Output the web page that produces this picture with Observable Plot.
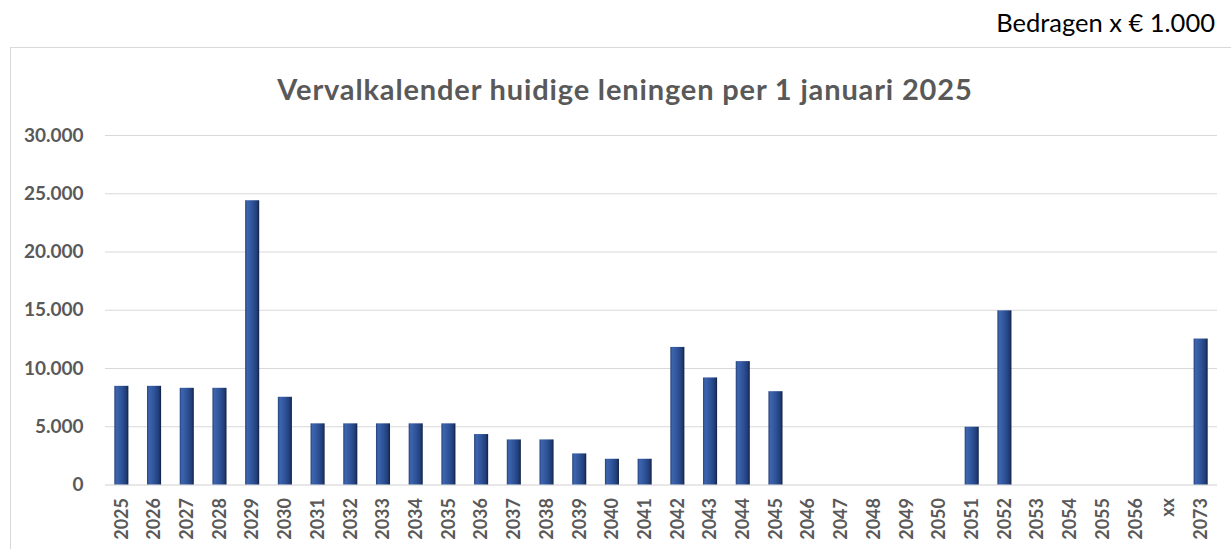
<!DOCTYPE html>
<html>
<head>
<meta charset="utf-8">
<script src="https://cdn.jsdelivr.net/npm/d3@7"></script>
<script src="https://cdn.jsdelivr.net/npm/@observablehq/plot@0.6"></script>
<style>
  html, body { margin: 0; padding: 0; background: #fff; }
  #wrap { position: relative; width: 1231px; height: 549px; overflow: hidden; font-family: Lato, "Open Sans", sans-serif; }
  #unit { position: absolute; right: 16px; top: 6.5px; font-size: 25.5px; color: #000; white-space: nowrap; }
  #box { position: absolute; left: 10px; top: 47px; width: 1300px; height: 600px; border-top: 1.5px solid #d9d9d9; border-left: 1.5px solid #d9d9d9; box-sizing: border-box; }
  #title { position: absolute; left: 0; width: 1250px; top: 71px; text-align: center; font-size: 29px; letter-spacing: 0.85px; font-weight: bold; color: #595959; white-space: nowrap; }
  #chart { position: absolute; left: 0; top: 0; }
</style>
</head>
<body>
<div id="wrap">
  <div id="unit">Bedragen x € 1.000</div>
  <div id="box"></div>
  <div id="title">Vervalkalender huidige leningen per 1 januari 2025</div>
  <div id="chart"></div>
</div>
<script>
const categories = ["2025","2026","2027","2028","2029","2030","2031","2032","2033","2034","2035","2036","2037","2038","2039","2040","2041","2042","2043","2044","2045","2046","2047","2048","2049","2050","2051","2052","2053","2054","2055","2056","xx","2073"];
const values = [8470,8470,8300,8300,24400,7530,5250,5250,5250,5250,5250,4330,3870,3870,2670,2210,2210,11810,9190,10590,8010,0,0,0,0,0,4960,14950,0,0,0,0,0,12530];
const yTicks = [0,5000,10000,15000,20000,25000,30000];

const data = categories.map((c, i) => ({year: c, value: values[i]}));
const nl = d3.formatLocale({decimal: ",", thousands: ".", grouping: [3], currency: ["€ ", ""]});
const fmt = nl.format(",");

function gradientDefs() {
  const ns = "http://www.w3.org/2000/svg";
  const defs = document.createElementNS(ns, "defs");
  const g = document.createElementNS(ns, "linearGradient");
  g.setAttribute("id", "barGrad");
  g.setAttribute("x1", "0"); g.setAttribute("x2", "1"); g.setAttribute("y1", "0"); g.setAttribute("y2", "0");
  [["0", "#243f78"], ["0.14", "#3d65ae"], ["0.55", "#2d5196"], ["0.85", "#203c75"], ["1", "#111f40"]].forEach(([o, c]) => {
    const s = document.createElementNS(ns, "stop");
    s.setAttribute("offset", o); s.setAttribute("stop-color", c);
    g.appendChild(s);
  });
  defs.appendChild(g);
  return defs;
}

const chart = Plot.plot({
  width: 1231,
  height: 549,
  marginLeft: 105,
  marginRight: 14,
  marginTop: 135,
  marginBottom: 64.5,
  style: {fontFamily: "Lato, 'Open Sans', sans-serif", background: "transparent", overflow: "visible"},
  x: {domain: categories, paddingInner: 0.57, paddingOuter: 0.285, round: false, label: null},
  y: {domain: [0, 30000], label: null},
  marks: [
    gradientDefs,
    Plot.gridY(yTicks.filter(d => d > 0), {stroke: "#d9d9d9", strokeOpacity: 1, strokeWidth: 1.2}),
    Plot.ruleY([0], {stroke: "#cfcfcf", strokeWidth: 1.2}),
    Plot.barY(data.filter(d => d.value > 0), {x: "year", y: "value", fill: "url(#barGrad)"}),
    Plot.axisY({ticks: yTicks, tickFormat: fmt, tickSize: 0, tickPadding: 22, fontSize: 19, fontWeight: "bold", fill: "#595959", label: null}),
    Plot.axisX({tickRotate: -90, tickSize: 0, tickPadding: 13, fontSize: 18, fontWeight: "bold", fill: "#595959", label: null})
  ]
});
document.getElementById("chart").appendChild(chart);
</script>
</body>
</html>
